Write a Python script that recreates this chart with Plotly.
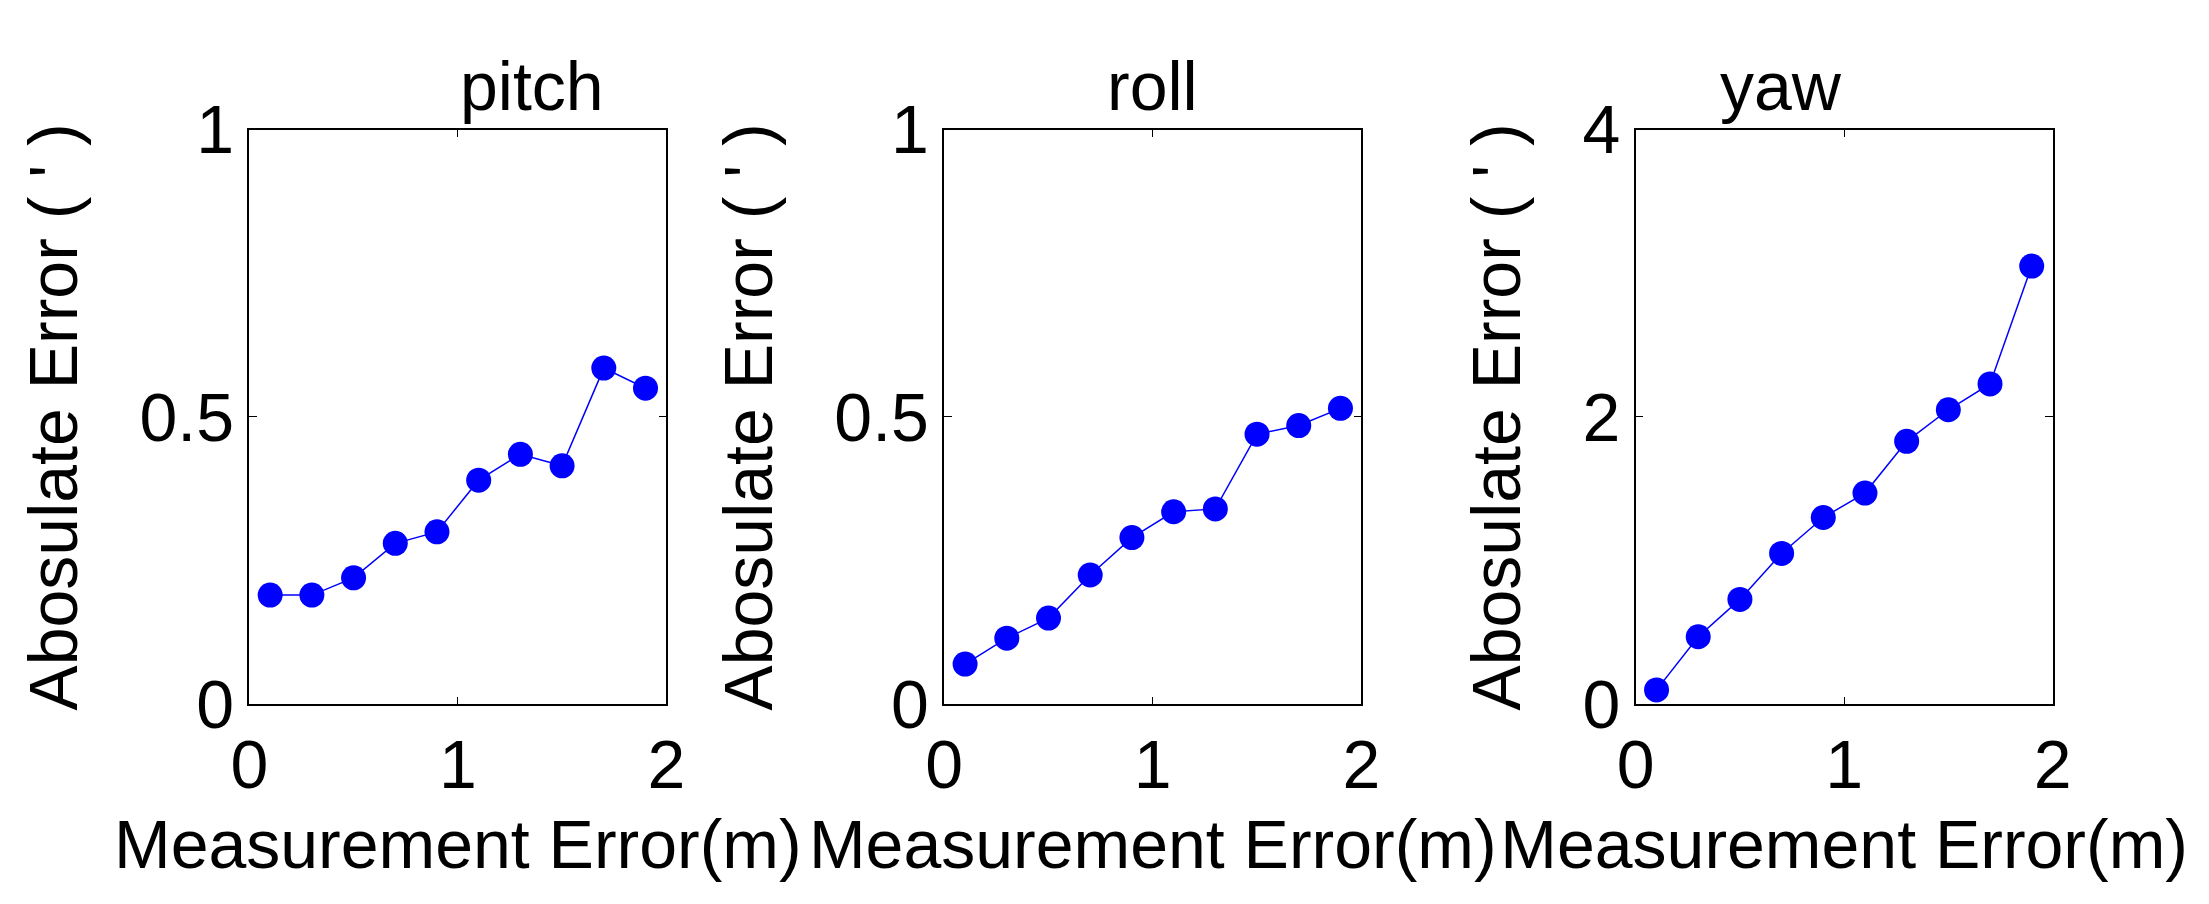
import plotly.graph_objects as go

x_vals = [0.1, 0.3, 0.5, 0.7, 0.9, 1.1, 1.3, 1.5, 1.7, 1.9]
pitch = [0.19, 0.19, 0.22, 0.28, 0.30, 0.39, 0.435, 0.415, 0.585, 0.55]
roll = [0.07, 0.115, 0.15, 0.225, 0.29, 0.335, 0.34, 0.47, 0.485, 0.515]
yaw = [0.1, 0.47, 0.73, 1.05, 1.3, 1.47, 1.83, 2.05, 2.23, 3.05]
titles = ["pitch", "roll", "yaw"]
yranges = [[0, 1], [0, 1], [0, 4]]
ytickvals = [[0, 0.5, 1], [0, 0.5, 1], [0, 2, 4]]
yticktext = [["0", "0.5", "1"], ["0", "0.5", "1"], ["0", "2", "4"]]

fig = go.Figure()
doms = [(0.1024, 0.2945), (0.4225, 0.6146), (0.741, 0.933)]
font = dict(family="Liberation Sans, Arial", size=68, color="black")
for i, ys in enumerate([pitch, roll, yaw]):
    xa = "x" if i == 0 else f"x{i+1}"
    ya = "y" if i == 0 else f"y{i+1}"
    fig.add_trace(go.Scatter(x=x_vals, y=ys, mode="lines+markers", xaxis=xa, yaxis=ya,
                             line=dict(color="blue", width=1.5),
                             marker=dict(color="blue", size=25), showlegend=False))
    ax = dict(showline=True, linecolor="black", linewidth=1.5, mirror="ticks", ticks="inside",
              ticklen=8, tickcolor="black", showgrid=False, zeroline=False, tickfont=font)
    fig.layout[("xaxis" if i == 0 else f"xaxis{i+1}")] = go.layout.XAxis(
        domain=doms[i], anchor=ya, range=[0, 2], tickvals=[0, 1, 2],
        title=dict(text="Measurement Error(m)", font=font, standoff=20), **ax)
    fig.layout[("yaxis" if i == 0 else f"yaxis{i+1}")] = go.layout.YAxis(
        domain=[0.205, 0.899], anchor=xa, range=yranges[i], tickvals=ytickvals[i],
        ticktext=yticktext[i],
        title=dict(text="Abosulate Error ( ' )", font=font, standoff=40), **ax)
    fig.add_annotation(text=titles[i], x=(doms[i][0] + doms[i][1]) / 2, y=1.0,
                       xref="paper", yref="paper", showarrow=False, font=font, yanchor="top")

fig.update_layout(width=2209, height=904, paper_bgcolor="white", plot_bgcolor="white",
                  margin=dict(l=0, r=0, t=0, b=0))
fig.write_html("out.html")
